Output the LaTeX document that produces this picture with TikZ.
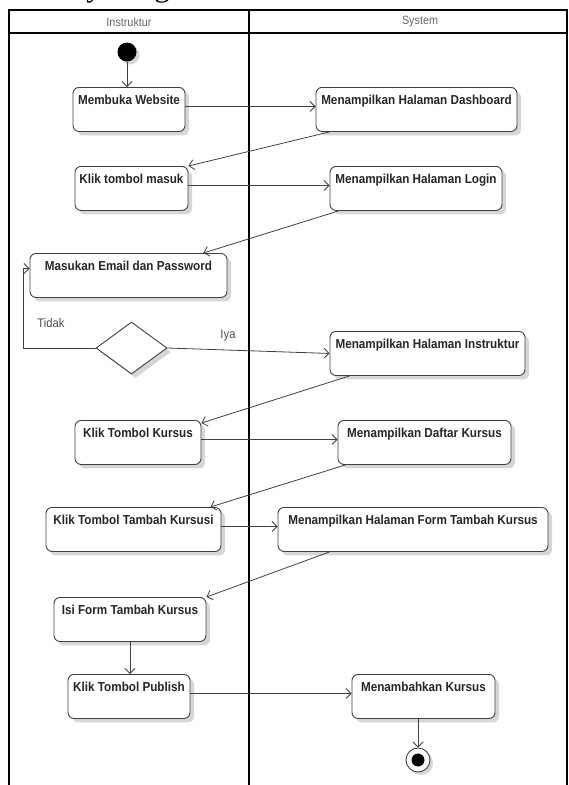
\documentclass[tikz,border=0pt]{standalone}
\usepackage{fontspec}
\setmainfont{Liberation Sans}[FakeStretch=0.9]
\newfontfamily\titlefont{Liberation Serif}
\usepackage{tikz}
\usetikzlibrary{positioning,arrows,arrows.meta}
\usetikzlibrary{shapes.geometric}
\usetikzlibrary{shadows}
\usetikzlibrary{calc}
\tikzset{
  lane/.style = {draw=black, line width=1.3pt},
  lane_t/.style = {font=\fontsize{12}{14}\selectfont, text=black!60, inner sep=0pt},
  act_n/.style = {rectangle, rounded corners=6pt, draw=black!75, line width=0.9pt,
    fill=white, text=black!85, font=\fontsize{13}{15}\selectfont\bfseries,
    inner xsep=2pt, inner ysep=0pt, text height=17pt, text depth=27pt, anchor=north,
    drop shadow={shadow xshift=4pt, shadow yshift=-4pt, fill=black!16, opacity=1}},
  act_d/.style = {diamond, draw=black!75, line width=0.9pt, fill=white, inner sep=0pt,
    minimum width=71pt, minimum height=52pt,
    drop shadow={shadow xshift=4pt, shadow yshift=-4pt, fill=black!16, opacity=1}},% keputusan
  act_s/.style = {circle, fill=black, inner sep=0pt, minimum size=19pt,
    drop shadow={shadow xshift=3pt, shadow yshift=-3pt, fill=black!16, opacity=1}},
  act_e/.style = {circle, draw=black!75, line width=0.9pt, fill=white, inner sep=0pt,
    minimum size=24pt,
    drop shadow={shadow xshift=3pt, shadow yshift=-3pt, fill=black!16, opacity=1}},
  act_ed/.style = {circle, fill=black, inner sep=0pt, minimum size=13pt},
  guard/.style = {font=\fontsize{12.5}{14}\selectfont, text=black!70, inner sep=0pt, anchor=base},
  flow/.style = {->, draw=black!75, line width=0.8pt}
}

\begin{document}
\begin{tikzpicture}[x=1pt, y=-1pt, >={Straight Barb[length=5pt,width=10pt]}]
\useasboundingbox (0,0) rectangle (569,785);
% judul (terpotong di atas)
\node [anchor=base west, inner sep=0pt, font=\titlefont\fontsize{31}{31}\selectfont] (judul) at (0,-4) {Activity Diagram};

% swimlane
\draw [lane] (9,785) -- (9,10) -- (567,10) -- (567,785);
\draw [lane] (9,33) -- (567,33);
\draw [lane] (249,10) -- (249,785);
\node [lane_t] (l_ins) at (129,22) {Instruktur};
\node [lane_t] (l_sys) at (420,22) {System};

% aktivitas
\node [act_s] (mulai) at (127,52) {};
\node [act_n, minimum width=112pt] (membuka) at (129,87) {Membuka Website};
\node [act_n, minimum width=201pt] (dashboard) at (416.5,87) {Menampilkan Halaman Dashboard};
\node [act_n, minimum width=113pt] (klikmasuk) at (131.5,166) {Klik tombol masuk};
\node [act_n, minimum width=172pt] (login) at (416,166) {Menampilkan Halaman Login};
\node [act_n, minimum width=197pt] (masukan) at (128.5,253) {Masukan Email dan Password};
\node [act_d] (cabang) at (131.5,348) {};
\node [act_n, minimum width=195pt] (instruktur) at (427.5,331) {Menampilkan Halaman Instruktur};
\node [act_n, minimum width=126pt] (kursus) at (138,420) {Klik Tombol Kursus};
\node [act_n, minimum width=173pt] (daftar) at (424.5,420) {Menampilkan Daftar Kursus};
\node [act_n, minimum width=175pt] (tambah) at (133.5,507) {Klik Tombol Tambah Kursusi};
\node [act_n, minimum width=270pt] (form) at (413,507) {Menampilkan Halaman Form Tambah Kursus};
\node [act_n, minimum width=152pt] (isi) at (130,597) {Isi Form Tambah Kursus};
\node [act_n, minimum width=122pt] (publish) at (129,674) {Klik Tombol Publish};
\node [act_n, minimum width=143pt] (menambahkan) at (423.5,674) {Menambahkan Kursus};
\node [act_e] (selesai) at (418,760) {};
\node [act_ed] (selesai_t) at (selesai) {};

% alur
\draw [flow] (mulai) -- (mulai |- membuka.north);
\draw [flow] ([yshift=3pt]membuka.east) -- ([yshift=3pt]dashboard.west);
\draw [flow] ([xshift=14pt]dashboard.south west) -- (klikmasuk.north east);
\draw [flow] ([yshift=3pt]klikmasuk.east) -- ([yshift=3pt]login.west);
\draw [flow] ([xshift=9pt]login.south west) -- ([xshift=-24pt]masukan.north east);
\coordinate (balik) at (23,348);
\draw [flow] (cabang.west) -- (balik) |- ([yshift=7pt]masukan.west);
\draw [flow] (cabang.east) -- (instruktur.west);
\node [guard] (g_tidak) at (51,327) {Tidak};
\node [guard] (g_iya) at (228,338) {Iya};
\draw [flow] ([xshift=20pt]instruktur.south west) -- ([yshift=-3pt]kursus.north east);
\draw [flow] ([yshift=3pt]kursus.east) -- ([yshift=3pt]daftar.west);
\draw [flow] ([xshift=8pt]daftar.south west) -- ([xshift=-11pt]tambah.north east);
\draw [flow] ([yshift=3pt]tambah.east) -- ([yshift=3pt]form.west);
\draw [flow] ([xshift=52pt]form.south west) -- (isi.north east);
\draw [flow] (isi.south) -- (isi.south |- publish.north);
\draw [flow] ([yshift=3pt]publish.east) -- ([yshift=3pt]menambahkan.west);
\draw [flow] (selesai |- menambahkan.south) -- (selesai.north);
\end{tikzpicture}
\end{document}
